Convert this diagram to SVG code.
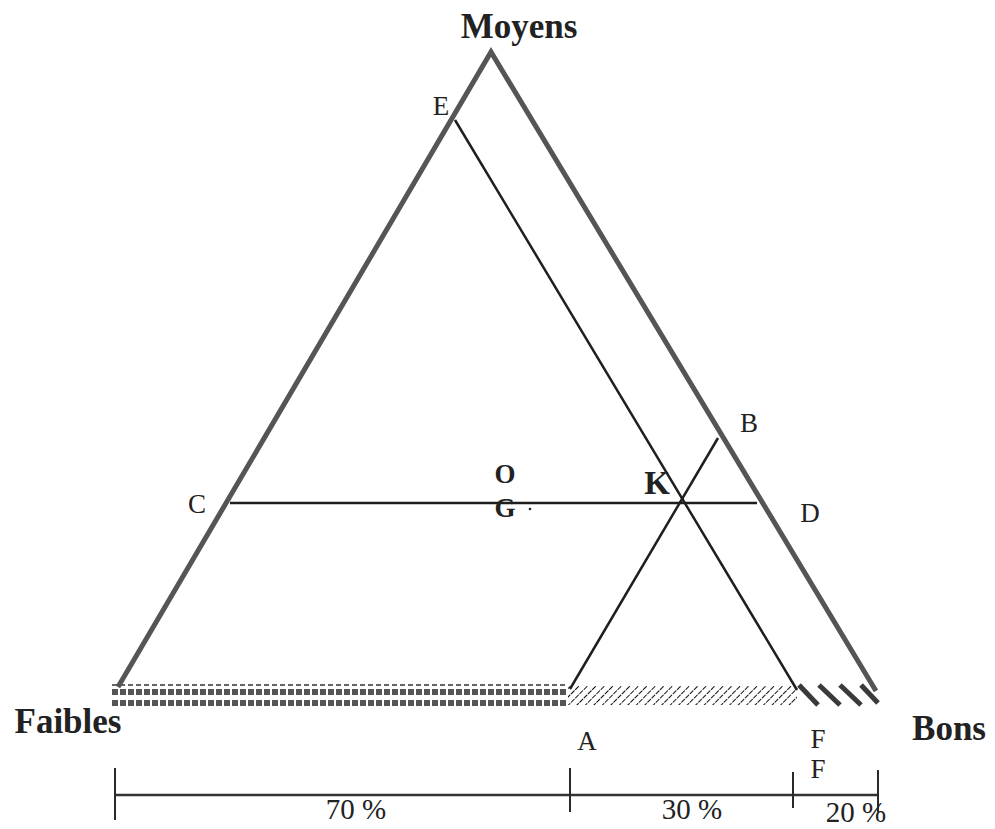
<svg xmlns="http://www.w3.org/2000/svg" width="995" height="829" viewBox="0 0 995 829">
<style>
.lbl{font-family:"Liberation Serif","Times New Roman",serif;fill:#222}
.big{font-size:35px;font-weight:bold}
.pt{font-size:27px}
.pct{font-size:29px}
.side{stroke:#555;stroke-width:5;fill:none;stroke-linecap:butt}
.ln{stroke:#1e1e1e;stroke-width:2.5;fill:none}
.tick{stroke:#2a2a2a;stroke-width:2;fill:none}
</style>
<defs>
<pattern id="sq" x="112" y="689" width="8" height="11" patternUnits="userSpaceOnUse">
<rect x="0" y="0" width="6" height="6" fill="#555"/>
</pattern>
<pattern id="fine" width="6" height="6" patternUnits="userSpaceOnUse" patternTransform="rotate(45)">
<line x1="0" y1="0" x2="0" y2="6" stroke="#111" stroke-width="2" stroke-dasharray="3 1"/>
</pattern>
</defs>
<rect width="995" height="829" fill="#fff"/>
<g id="band">
<line x1="112" y1="685" x2="566" y2="685" stroke="#333" stroke-width="1.6" stroke-dasharray="5 3"/>
<rect x="112" y="689" width="454" height="6" fill="url(#sq)"/>
<rect x="112" y="700" width="454" height="6" fill="url(#sq)"/>
<rect x="568" y="686" width="229" height="19" fill="url(#fine)"/>
<g stroke="#3a3a3a" stroke-width="5">
<line x1="799" y1="685" x2="818" y2="705"/>
<line x1="819" y1="685" x2="840" y2="705"/>
<line x1="840" y1="685" x2="861" y2="705"/>
<line x1="861" y1="685" x2="878" y2="703"/>
</g>
</g>
<g id="triangle">
<polyline class="side" points="118,687 491,52 876,691"/>
</g>
<g id="connectors">
<line class="ln" x1="455" y1="120" x2="797" y2="690"/>
<line class="ln" x1="230" y1="503" x2="757" y2="503"/>
<line class="ln" x1="570" y1="689" x2="718" y2="438"/>
<circle cx="530" cy="509" r="1.3" fill="#222"/>
</g>
<g id="scale">
<line x1="115" y1="795" x2="878" y2="795" stroke="#333" stroke-width="2.5"/>
<line class="tick" x1="115" y1="768" x2="115" y2="820"/>
<line class="tick" x1="570" y1="768" x2="570" y2="812"/>
<line class="tick" x1="793" y1="772" x2="793" y2="808"/>
<line class="tick" x1="878" y1="770" x2="878" y2="812"/>
</g>
<g id="labels">
<text class="lbl big" x="519" y="38" text-anchor="middle">Moyens</text>
<text class="lbl big" x="68" y="733" text-anchor="middle">Faibles</text>
<text class="lbl big" x="949" y="740" text-anchor="middle">Bons</text>
<text class="lbl pt" x="441" y="115" text-anchor="middle">E</text>
<text class="lbl pt" x="749" y="432" text-anchor="middle">B</text>
<text class="lbl pt" x="197" y="513" text-anchor="middle">C</text>
<text class="lbl pt" x="810" y="522" text-anchor="middle">D</text>
<text class="lbl pt" x="587" y="750" text-anchor="middle">A</text>
<text class="lbl pt" x="818" y="748" text-anchor="middle">F</text>
<text class="lbl pt" x="818" y="778" text-anchor="middle">F</text>
<text class="lbl pt" x="505" y="483" text-anchor="middle" font-weight="bold">O</text>
<text class="lbl pt" x="505" y="517" text-anchor="middle" font-weight="bold">G</text>
<text class="lbl" x="657" y="494" text-anchor="middle" font-size="33" font-weight="bold">K</text>
<text class="lbl pct" x="356" y="819" text-anchor="middle">70 %</text>
<text class="lbl pct" x="692" y="819" text-anchor="middle">30 %</text>
<text class="lbl pct" x="856" y="822" text-anchor="middle">20 %</text>
</g>
</svg>
